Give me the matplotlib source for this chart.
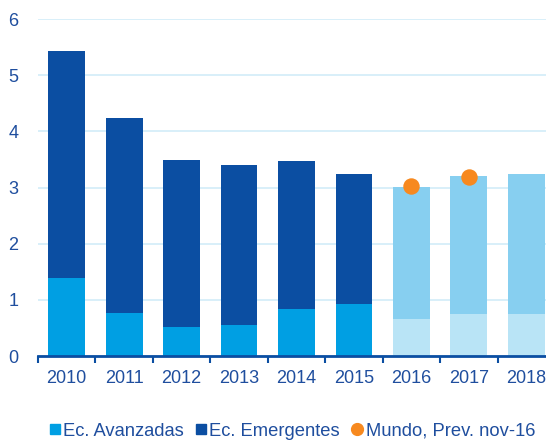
import matplotlib
matplotlib.use("Agg")
import matplotlib.pyplot as plt
from matplotlib.lines import Line2D
import numpy as np

years = ["2010", "2011", "2012", "2013", "2014", "2015", "2016", "2017", "2018"]
total = [5.43, 4.24, 3.49, 3.40, 3.47, 3.24, 3.01, 3.20, 3.24]
advanced = [1.39, 0.77, 0.52, 0.55, 0.84, 0.93, 0.66, 0.75, 0.75]
world_forecast_years = ["2016", "2017"]
world_forecast = [3.03, 3.19]
n_actual = 6

plt.rcParams['font.family'] = ['Liberation Sans', 'DejaVu Sans']
text_col = '#1F4E9E'
adv_col = '#009FE3'
emg_col = '#0B4EA2'
adv_f_col = '#B9E4F6'
emg_f_col = '#87CFF0'
dot_col = '#F7891F'

fig = plt.figure(figsize=(5.46, 4.40), dpi=100)
ax = fig.add_axes([38/546, 84/440, 517/546, 337/440])

x = np.arange(len(years))
emerging = [t - a for t, a in zip(total, advanced)]
acol = [adv_col if i < n_actual else adv_f_col for i in range(len(years))]
ecol = [emg_col if i < n_actual else emg_f_col for i in range(len(years))]
ax.bar(x, advanced, width=0.64, color=acol, zorder=2)
ax.bar(x, emerging, bottom=advanced, width=0.64, color=ecol, zorder=2)
wx = [years.index(y) for y in world_forecast_years]
ax.scatter(wx, world_forecast, s=140, color=dot_col, zorder=3, linewidths=0)

ax.set_xlim(-0.5, len(years) - 0.5)
ax.set_ylim(0, 6)
ax.set_yticks(range(0, 7))
ax.yaxis.grid(True, color='#D5EEF9', linewidth=1.3, zorder=0)
ax.set_axisbelow(True)
for s in ['top', 'right', 'left']:
    ax.spines[s].set_visible(False)
ax.spines['bottom'].set_color(emg_col)
ax.spines['bottom'].set_linewidth(2)
ax.spines['bottom'].set_zorder(4)
ax.tick_params(axis='y', length=0, labelsize=13, labelcolor=text_col, pad=14)
ax.set_xticks(x)
ax.set_xticklabels(years)
ax.set_xticks(np.arange(-0.5, len(years), 1.0), minor=True)
ax.tick_params(axis='x', which='major', length=0, labelsize=13, labelcolor=text_col, pad=10)
ax.tick_params(axis='x', which='minor', length=5, width=1.5, color=emg_col, direction='out')

handles = [
    Line2D([], [], marker='s', linestyle='none', color=adv_col, markersize=7.5),
    Line2D([], [], marker='s', linestyle='none', color=emg_col, markersize=7.5),
    Line2D([], [], marker='o', linestyle='none', color=dot_col, markersize=8.5),
]
labels = ["Ec. Avanzadas", "Ec. Emergentes", "Mundo, Prev. nov-16"]
leg = fig.legend(handles, labels, loc='center', bbox_to_anchor=(0.535, 0.02), ncol=3,
                 frameon=False, fontsize=13.2, handlelength=0.6, handletextpad=0.15,
                 columnspacing=0.65, labelcolor=text_col)

fig.savefig("out.png", dpi=100)
